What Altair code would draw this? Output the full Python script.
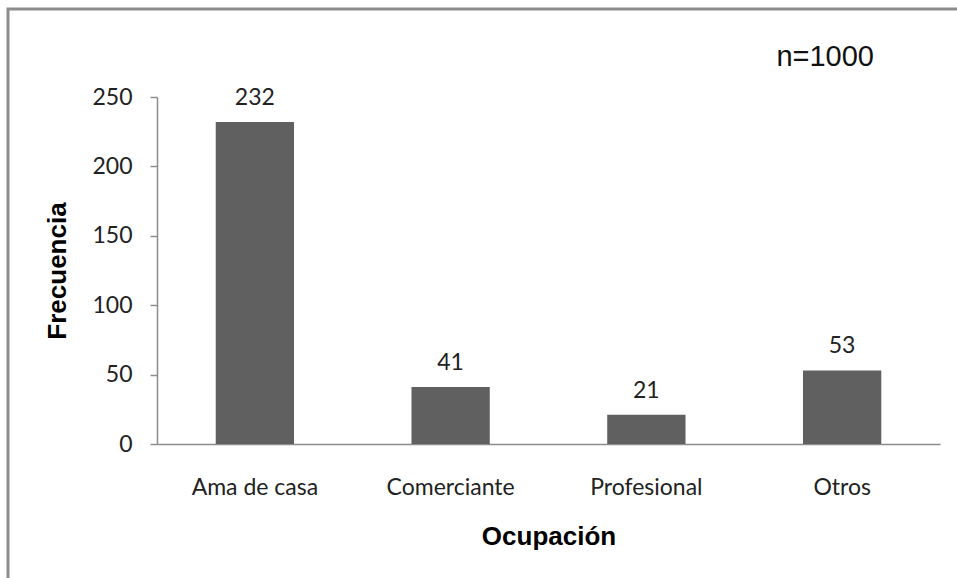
import altair as alt
import pandas as pd

# Occupation frequencies (n = 1000)
categorias = ["Ama de casa", "Comerciante", "Profesional", "Otros"]
frecuencias = [232, 41, 21, 53]
y_ticks = [0, 50, 100, 150, 200, 250]
nota = "n=1000"

df = pd.DataFrame({"Ocupación": categorias, "Frecuencia": frecuencias})

PLOT_W, PLOT_H = 783, 347
LABEL_FONT = "Lato"
TITLE_FONT = "Liberation Sans"
AXIS_GRAY = "#8c8c8c"

base = alt.Chart(df)

bars = base.mark_bar(color="#606060").encode(
    x=alt.X(
        "Ocupación:N",
        sort=categorias,
        scale=alt.Scale(paddingInner=0.6, paddingOuter=0.3),
        axis=alt.Axis(
            title="Ocupación",
            labelAngle=0,
            ticks=False,
            tickSize=0,
            labelPadding=32,
            titlePadding=24,
        ),
    ),
    y=alt.Y(
        "Frecuencia:Q",
        scale=alt.Scale(domain=[0, 250], nice=False),
        axis=alt.Axis(
            title="Frecuencia",
            values=y_ticks,
            grid=False,
            tickSize=7,
            labelPadding=18,
            titlePadding=21,
        ),
    ),
)

labels = base.mark_text(
    baseline="alphabetic", dy=-17, font=LABEL_FONT, fontSize=23, color="#222222"
).encode(
    x=alt.X("Ocupación:N", sort=categorias),
    y="Frecuencia:Q",
    text="Frecuencia:Q",
)

# Sample-size note in the upper right corner
note = alt.Chart(alt.Data(values=[{"t": nota}])).mark_text(
    align="right", baseline="alphabetic", font=TITLE_FONT, fontSize=29, color="#111111"
).encode(
    x=alt.value(PLOT_W - 66),
    y=alt.value(-31),
    text="t:N",
)

# Outer frame around the whole figure
frame = alt.Chart(alt.Data(values=[{}])).mark_rect(
    filled=False, stroke=AXIS_GRAY, strokeWidth=3
).encode(
    x=alt.value(-149),
    x2=alt.value(PLOT_W + 60),
    y=alt.value(-88),
    y2=alt.value(PLOT_H + 200),
)

chart = (
    alt.layer(frame, bars, labels, note)
    .properties(
        width=PLOT_W,
        height=PLOT_H,
        background="white",
        padding={"left": 157, "top": 97, "right": 17, "bottom": 134},
        autosize=alt.AutoSizeParams(type="none"),
    )
    .configure_view(stroke=None)
    .configure_axis(
        domainColor=AXIS_GRAY,
        domainWidth=1.5,
        tickColor=AXIS_GRAY,
        tickWidth=1.5,
        labelFont=LABEL_FONT,
        labelFontSize=23,
        labelColor="#222222",
        titleFont=TITLE_FONT,
        titleFontSize=26,
        titleFontWeight="bold",
        titleColor="#000000",
    )
)

chart.save("out.html", embed_options={"renderer": "svg", "actions": False})
